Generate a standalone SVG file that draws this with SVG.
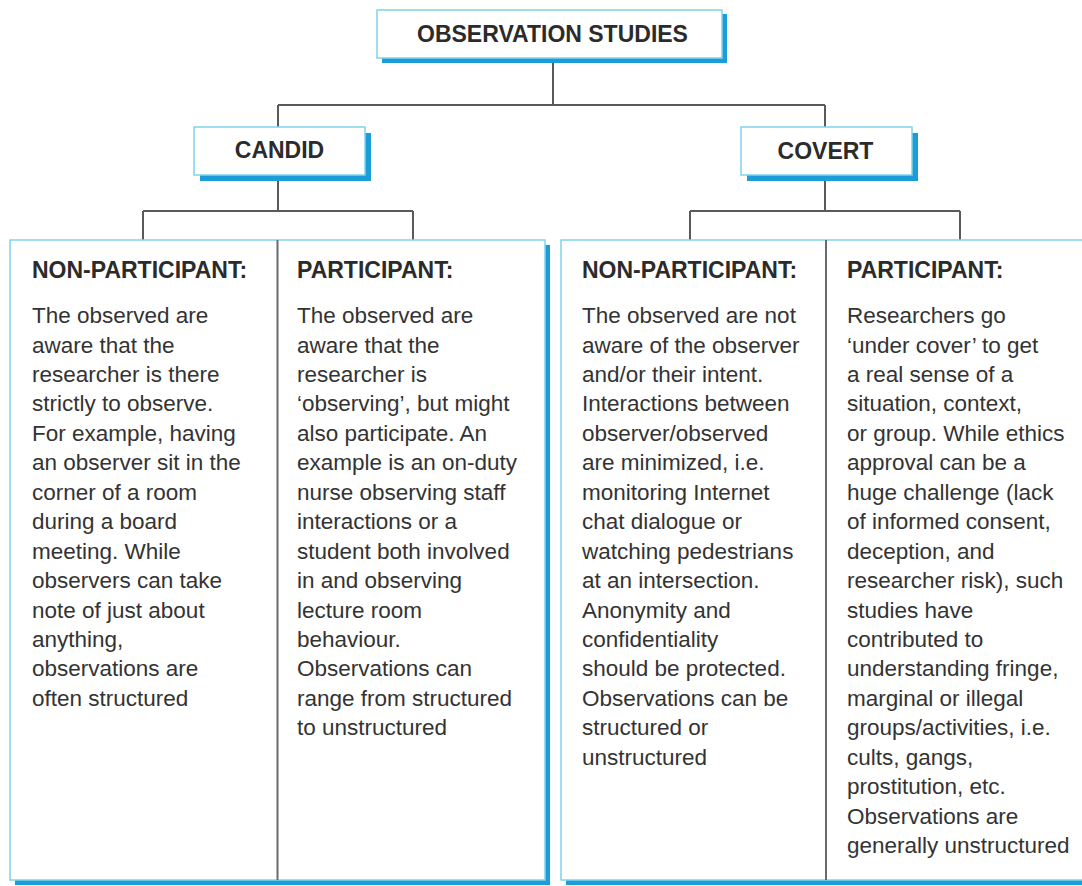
<svg xmlns="http://www.w3.org/2000/svg" width="1082" height="886" viewBox="0 0 1082 886">
  <style>
    .box { fill: #ffffff; stroke: #7fd4ef; stroke-width: 1.5; }
    .shadow { fill: #1c9dd8; }
    .conn { fill: none; stroke: #5a5a5a; stroke-width: 2; }
    .div { stroke: #6a6a6a; stroke-width: 2; }
    .title { font-family: "Liberation Sans", Arial, sans-serif; font-weight: bold; font-size: 23px; fill: #2b2b2b; text-anchor: middle; }
    .head { font-family: "Liberation Sans", Arial, sans-serif; font-weight: bold; font-size: 23px; fill: #2b2b2b; }
    .body { font-family: "Liberation Sans", Arial, sans-serif; font-size: 22.5px; fill: #333333; }
  </style>
  <rect width="1082" height="886" fill="#ffffff"/>

  <g id="connectors">
    <path class="conn" d="M553 60 V105 M278 105 H825 M278 105 V127 M825 105 V127"/>
    <path class="conn" d="M278 175 V211 M143 211 H413 M143 211 V240 M413 211 V240"/>
    <path class="conn" d="M825 175 V211 M690 211 H960 M690 211 V240 M960 211 V240"/>
  </g>

  <g id="node-observation-studies">
    <rect class="shadow" x="382" y="14" width="345" height="49"/>
    <rect class="box" x="377" y="10" width="345" height="48"/>
    <text class="title" x="552.5" y="42">OBSERVATION STUDIES</text>
  </g>

  <g id="node-candid">
    <rect class="shadow" x="200" y="133" width="171" height="48"/>
    <rect class="box" x="194" y="127" width="171" height="48"/>
    <text class="title" x="279.5" y="158">CANDID</text>
  </g>

  <g id="node-covert">
    <rect class="shadow" x="747" y="133" width="171" height="48"/>
    <rect class="box" x="741" y="127" width="171" height="48"/>
    <text class="title" x="825.5" y="159">COVERT</text>
  </g>

  <g id="node-candid-box">
    <rect class="shadow" x="15" y="245" width="535" height="640"/>
    <rect class="box" x="10" y="240" width="535" height="640"/>
    <line class="div" x1="277.5" y1="240" x2="277.5" y2="880"/>
  </g>

  <g id="node-covert-box">
    <rect class="shadow" x="566" y="245" width="530" height="640"/>
    <rect class="box" x="561" y="240" width="530" height="640"/>
    <line class="div" x1="826" y1="240" x2="826" y2="880"/>
  </g>

  <g id="node-candid-nonparticipant">
    <text class="head" x="32" y="278">NON-PARTICIPANT:</text>
    <text class="body">
      <tspan x="32" y="323">The observed are</tspan>
      <tspan x="32" y="352.5">aware that the</tspan>
      <tspan x="32" y="381.9">researcher is there</tspan>
      <tspan x="32" y="411.4">strictly to observe.</tspan>
      <tspan x="32" y="440.8">For example, having</tspan>
      <tspan x="32" y="470.3">an observer sit in the</tspan>
      <tspan x="32" y="499.7">corner of a room</tspan>
      <tspan x="32" y="529.2">during a board</tspan>
      <tspan x="32" y="558.6">meeting. While</tspan>
      <tspan x="32" y="588.1">observers can take</tspan>
      <tspan x="32" y="617.5">note of just about</tspan>
      <tspan x="32" y="647">anything,</tspan>
      <tspan x="32" y="676.4">observations are</tspan>
      <tspan x="32" y="705.9">often structured</tspan>
    </text>
  </g>

  <g id="node-candid-participant">
    <text class="head" x="297" y="278">PARTICIPANT:</text>
    <text class="body">
      <tspan x="297" y="323">The observed are</tspan>
      <tspan x="297" y="352.5">aware that the</tspan>
      <tspan x="297" y="381.9">researcher is</tspan>
      <tspan x="297" y="411.4">‘observing’, but might</tspan>
      <tspan x="297" y="440.8">also participate. An</tspan>
      <tspan x="297" y="470.3">example is an on-duty</tspan>
      <tspan x="297" y="499.7">nurse observing staff</tspan>
      <tspan x="297" y="529.2">interactions or a</tspan>
      <tspan x="297" y="558.6">student both involved</tspan>
      <tspan x="297" y="588.1">in and observing</tspan>
      <tspan x="297" y="617.5">lecture room</tspan>
      <tspan x="297" y="647">behaviour.</tspan>
      <tspan x="297" y="676.4">Observations can</tspan>
      <tspan x="297" y="705.9">range from structured</tspan>
      <tspan x="297" y="735.3">to unstructured</tspan>
    </text>
  </g>

  <g id="node-covert-nonparticipant">
    <text class="head" x="582" y="278">NON-PARTICIPANT:</text>
    <text class="body">
      <tspan x="582" y="323">The observed are not</tspan>
      <tspan x="582" y="352.5">aware of the observer</tspan>
      <tspan x="582" y="381.9">and/or their intent.</tspan>
      <tspan x="582" y="411.4">Interactions between</tspan>
      <tspan x="582" y="440.8">observer/observed</tspan>
      <tspan x="582" y="470.3">are minimized, i.e.</tspan>
      <tspan x="582" y="499.7">monitoring Internet</tspan>
      <tspan x="582" y="529.2">chat dialogue or</tspan>
      <tspan x="582" y="558.6">watching pedestrians</tspan>
      <tspan x="582" y="588.1">at an intersection.</tspan>
      <tspan x="582" y="617.5">Anonymity and</tspan>
      <tspan x="582" y="647">confidentiality</tspan>
      <tspan x="582" y="676.4">should be protected.</tspan>
      <tspan x="582" y="705.9">Observations can be</tspan>
      <tspan x="582" y="735.3">structured or</tspan>
      <tspan x="582" y="764.8">unstructured</tspan>
    </text>
  </g>

  <g id="node-covert-participant">
    <text class="head" x="847" y="278">PARTICIPANT:</text>
    <text class="body">
      <tspan x="847" y="323">Researchers go</tspan>
      <tspan x="847" y="352.5">‘under cover’ to get</tspan>
      <tspan x="847" y="381.9">a real sense of a</tspan>
      <tspan x="847" y="411.4">situation, context,</tspan>
      <tspan x="847" y="440.8">or group. While ethics</tspan>
      <tspan x="847" y="470.3">approval can be a</tspan>
      <tspan x="847" y="499.7">huge challenge (lack</tspan>
      <tspan x="847" y="529.2">of informed consent,</tspan>
      <tspan x="847" y="558.6">deception, and</tspan>
      <tspan x="847" y="588.1">researcher risk), such</tspan>
      <tspan x="847" y="617.5">studies have</tspan>
      <tspan x="847" y="647">contributed to</tspan>
      <tspan x="847" y="676.4">understanding fringe,</tspan>
      <tspan x="847" y="705.9">marginal or illegal</tspan>
      <tspan x="847" y="735.3">groups/activities, i.e.</tspan>
      <tspan x="847" y="764.8">cults, gangs,</tspan>
      <tspan x="847" y="794.2">prostitution, etc.</tspan>
      <tspan x="847" y="823.7">Observations are</tspan>
      <tspan x="847" y="853">generally unstructured</tspan>
    </text>
  </g>
</svg>
